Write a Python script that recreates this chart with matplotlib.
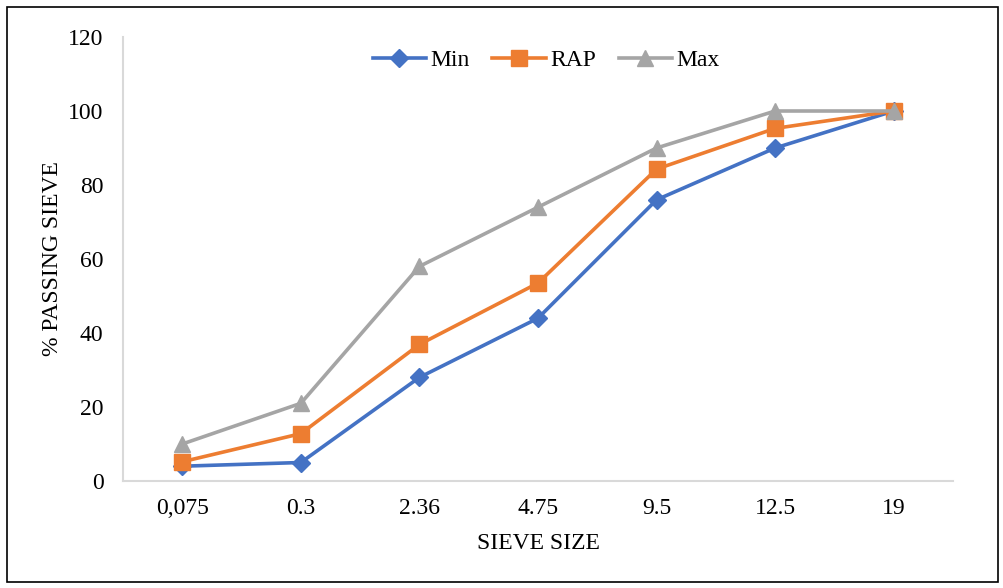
import matplotlib
matplotlib.use("Agg")
import matplotlib.pyplot as plt
from matplotlib.patches import Rectangle

plt.rcParams['font.family'] = ['Liberation Serif', 'DejaVu Serif']

sieve = ['0,075', '0.3', '2.36', '4.75', '9.5', '12.5', '19']
min_pass = [4, 5, 28, 44, 76, 90, 100]
rap_pass = [5.2, 12.8, 36.9, 53.5, 84.3, 95.3, 100]
max_pass = [10, 21, 58, 74, 90, 100, 100]

fig = plt.figure(figsize=(10.04, 5.88), dpi=100)
ax = fig.add_axes([123/1004, 1 - 481/588, 830/1004, 444/588])

x = range(len(sieve))
ax.plot(x, min_pass, color='#4472C4', lw=2.6, marker='D', ms=9, label='Min')
ax.plot(x, rap_pass, color='#ED7D31', lw=2.6, marker='s', ms=11.5, label='RAP')
ax.plot(x, max_pass, color='#A5A5A5', lw=2.6, marker='^', ms=11, label='Max')

ax.set_xlim(-0.5, len(sieve) - 0.5)
ax.set_ylim(0, 120)
ax.set_yticks(range(0, 121, 20))
ax.set_xticks(list(x))
ax.set_xticklabels(sieve)
ax.tick_params(length=0, labelsize=17, colors='black')
ax.tick_params(axis='x', pad=12)
ax.tick_params(axis='y', pad=14)

for s in ['top', 'right']:
    ax.spines[s].set_visible(False)
for s in ['left', 'bottom']:
    ax.spines[s].set_color('#D9D9D9')
    ax.spines[s].set_linewidth(1.5)

ax.set_xlabel('SIEVE SIZE', fontsize=17, labelpad=10)
ax.set_ylabel('% PASSING SIEVE', fontsize=17, labelpad=4)

ax.legend(loc='upper center', bbox_to_anchor=(0.51, 1.02), ncol=3, frameon=False,
          fontsize=17, handlelength=2.25, columnspacing=0.95, handletextpad=0.2)

fig.patches.append(Rectangle((7/1004, 6/588), 991/1004, 575/588, transform=fig.transFigure,
                             fill=False, edgecolor='black', lw=1.2))

fig.savefig('out.png', dpi=100)
